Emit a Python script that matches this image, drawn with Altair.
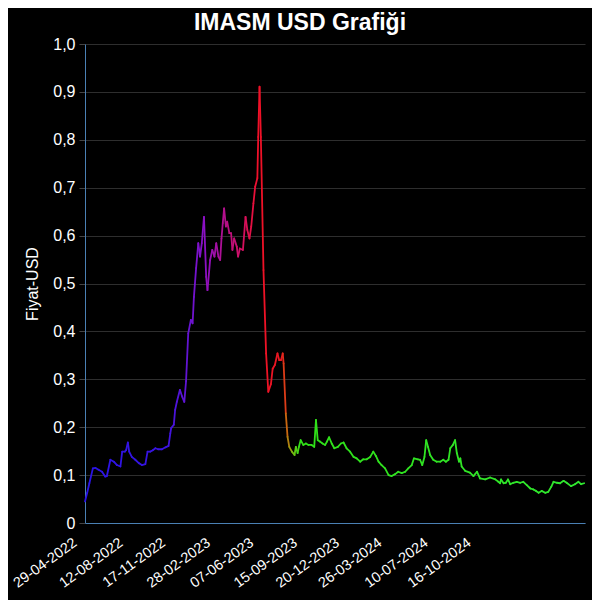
import altair as alt
import pandas as pd

START_DATE = "2022-04-29"
END_DATE = "2025-06-15"

# days since START_DATE
days = [0, 5, 10, 18, 24, 31, 39, 46, 50, 58, 66, 73, 81, 85, 91, 94, 98, 101, 107, 115,
        123, 130, 138, 143, 149, 155, 161, 167, 176, 184, 191, 195, 197, 203, 206, 210, 217, 222, 227, 231,
        236, 242, 246, 249, 254, 259, 263, 267, 272, 277, 280, 286, 291, 296, 300, 305, 309, 312, 315, 318,
        322, 325, 330, 334, 337, 341, 347, 350, 354, 361, 367, 371, 376, 380, 385, 389, 394, 396, 399, 402,
        408, 414, 419, 425, 429, 434, 440, 444, 448, 452, 454, 459, 463, 467, 473, 479, 482, 486, 489, 493,
        499, 505, 511, 518, 524, 528, 532, 537, 543, 549, 553, 558, 564, 570, 578, 585, 591, 598, 606, 614,
        621, 629, 636, 644, 652, 659, 665, 671, 678, 686, 694, 701, 709, 716, 724, 732, 739, 747, 752, 761,
        766, 771, 776, 780, 784, 789, 796, 804, 812, 819, 825, 831, 835, 841, 846, 850, 855, 858, 861, 869,
        880, 888, 896, 903, 915, 926, 938, 945, 949, 951, 957, 962, 967, 972, 979, 987, 995, 1002, 1010, 1018,
        1025, 1031, 1037, 1044, 1052, 1059, 1066, 1071, 1079, 1086, 1094, 1101, 1111, 1120, 1128, 1134, 1141]

prices = [0.045, 0.063, 0.083, 0.114, 0.115, 0.111, 0.107, 0.097, 0.098, 0.132, 0.128, 0.121, 0.118, 0.149, 0.149, 0.152, 0.168, 0.149, 0.138, 0.132,
          0.125, 0.121, 0.123, 0.149, 0.149, 0.152, 0.156, 0.154, 0.154, 0.158, 0.161, 0.187, 0.198, 0.205, 0.236, 0.253, 0.278, 0.264, 0.253, 0.296,
          0.396, 0.424, 0.417, 0.472, 0.532, 0.584, 0.556, 0.584, 0.639, 0.514, 0.486, 0.549, 0.570, 0.556, 0.584, 0.556, 0.549, 0.594, 0.626, 0.657,
          0.619, 0.629, 0.605, 0.605, 0.570, 0.594, 0.577, 0.556, 0.573, 0.570, 0.639, 0.612, 0.594, 0.619, 0.667, 0.702, 0.720, 0.806, 0.911, 0.806,
          0.528, 0.354, 0.274, 0.290, 0.322, 0.330, 0.354, 0.340, 0.340, 0.354, 0.333, 0.229, 0.180, 0.159, 0.149, 0.142, 0.159, 0.146, 0.159, 0.173,
          0.163, 0.166, 0.163, 0.163, 0.159, 0.215, 0.173, 0.170, 0.166, 0.163, 0.170, 0.179, 0.166, 0.156, 0.159, 0.166, 0.168, 0.156, 0.149, 0.138,
          0.135, 0.128, 0.133, 0.133, 0.138, 0.149, 0.140, 0.128, 0.121, 0.114, 0.100, 0.098, 0.102, 0.107, 0.104, 0.107, 0.114, 0.121, 0.135, 0.133,
          0.132, 0.121, 0.138, 0.173, 0.159, 0.142, 0.132, 0.128, 0.128, 0.132, 0.128, 0.132, 0.156, 0.163, 0.173, 0.146, 0.128, 0.135, 0.118, 0.109,
          0.105, 0.098, 0.107, 0.093, 0.091, 0.095, 0.091, 0.086, 0.083, 0.091, 0.083, 0.084, 0.091, 0.081, 0.084, 0.086, 0.084, 0.086, 0.079, 0.072,
          0.070, 0.067, 0.063, 0.067, 0.063, 0.065, 0.076, 0.086, 0.084, 0.083, 0.088, 0.084, 0.077, 0.081, 0.086, 0.081, 0.083]

tick_dates = ["2022-04-29", "2022-08-12", "2022-11-17", "2023-02-28", "2023-06-07",
              "2023-09-15", "2023-12-20", "2024-03-26", "2024-07-10", "2024-10-16"]
y_ticks = [0, 0.1, 0.2, 0.3, 0.4, 0.5, 0.6, 0.7, 0.8, 0.9, 1.0]

# colour stops along the time axis (days since start)
color_days = [0, 183, 240, 272, 318, 366, 395, 450, 458, 470, 490, 1143]
color_range = ["#2a14e6", "#3a14e0", "#6a14d0", "#8c10c4", "#b4108c", "#d81058",
               "#f01028", "#e81820", "#d06010", "#88b010", "#30e018", "#30e830"]

start = pd.Timestamp(START_DATE)
df = pd.DataFrame({"day": days, "price": prices})
df["date"] = start + pd.to_timedelta(df["day"], unit="D")
df["date2"] = df["date"].shift(-1)
df["price2"] = df["price"].shift(-1)
df = df.dropna().copy()
df["date"] = df["date"].dt.strftime("%Y-%m-%d")
df["date2"] = df["date2"].dt.strftime("%Y-%m-%d")

chart = alt.Chart(df).mark_rule(strokeWidth=1.8, strokeCap="round").encode(
    x=alt.X("date:T",
            scale=alt.Scale(domain=[START_DATE, END_DATE]),
            axis=alt.Axis(values=tick_dates, format="%d-%m-%Y", labelAngle=-36,
                          labelAlign="right", labelBaseline="middle",
                          labelFontSize=14.5, labelColor="white", labelPadding=18,
                          labelOffset=-10,
                          ticks=False, grid=False, domainColor="#4a80b4",
                          labelFont="Liberation Sans", labelOverlap=False,
                          labelBound=False, labelFlush=False,
                          title=None)),
    x2="date2:T",
    y=alt.Y("price:Q",
            scale=alt.Scale(domain=[0, 1], nice=False),
            axis=alt.Axis(values=y_ticks,
                          labelExpr="datum.value == 0 ? '0' : replace(format(datum.value, '.1f'), '.', ',')",
                          labelFontSize=16, labelColor="white", labelFont="Liberation Sans",
                          tickColor="#444444", tickSize=6, labelPadding=4,
                          gridColor="#2e2e2e", domainColor="#4a80b4",
                          title="Fiyat-USD", titleColor="white", titleFontSize=16,
                          titleFontWeight="normal", titleFont="Liberation Sans",
                          titlePadding=12)),
    y2="price2:Q",
    color=alt.Color("day:Q", scale=alt.Scale(domain=color_days, range=color_range,
                                             interpolate="rgb"), legend=None),
).properties(
    width=500,
    height=479,
    title=alt.TitleParams("IMASM USD Grafiği", color="white", fontSize=23,
                          font="Liberation Sans", fontWeight="bold",
                          anchor="middle", dx=-35, offset=1),
    autosize=alt.AutoSizeParams(type="none"),
    padding={"left": 77, "top": 36, "right": 7, "bottom": 77},
).configure(background="black").configure_view(stroke=None)

chart.save("out.html", embed_options={"renderer": "svg", "actions": False})
